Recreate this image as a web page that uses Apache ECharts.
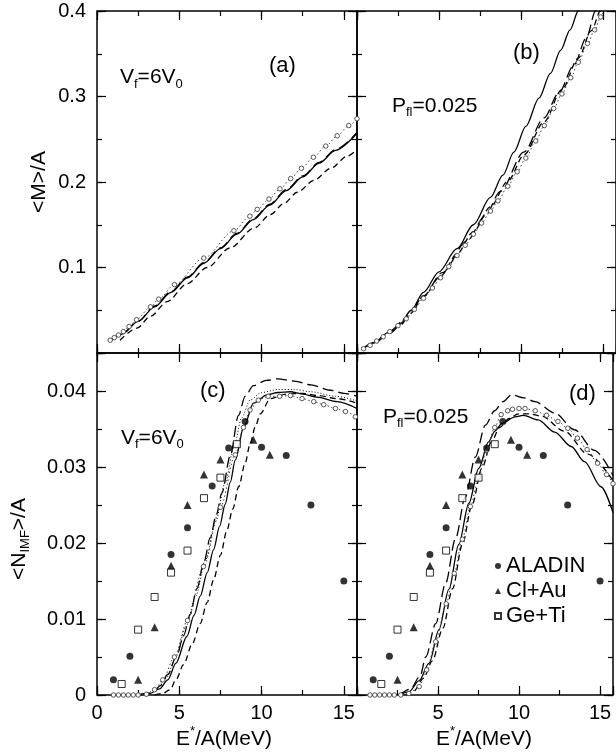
<!DOCTYPE html>
<html><head><meta charset="utf-8">
<script src="https://cdn.jsdelivr.net/npm/echarts@6/dist/echarts.min.js"></script>
<style>html,body{margin:0;padding:0;background:#fff}#c{width:616px;height:755px}</style>
</head><body><div id="c"></div><script>
const FONT = "'Liberation Sans', Arial, Helvetica, sans-serif";
const X_MAX = 15.8;

// ---- tick labels ----
const xTickLabelsLeft = ['0', '5', '10', '15'];
const xTickLabelsRight = ['5', '10', '15'];
const yTickLabelsM = ['0.1', '0.2', '0.3', '0.4'];
const yTickLabelsN = ['0', '0.01', '0.02', '0.03', '0.04'];

// ---- panel (a): <M>/A, Vf=6V0 ----
const a_dotted = [[0.8,0.015],[1.05,0.018],[1.3,0.021],[1.6,0.025],[1.95,0.031],[2.4,0.039],[3.25,0.054],[3.75,0.063],[4.71,0.080],[6.49,0.111],[8.32,0.143],[9.29,0.160],[9.74,0.168],[10.45,0.180],[11.12,0.192],[11.77,0.204],[12.42,0.216],[13.15,0.229],[13.9,0.242],[14.6,0.254],[15.3,0.266],[15.8,0.274]];
const a_solid = [[0.8,0.014],[1.5,0.022],[2.5,0.037],[3.5,0.054],[4.5,0.071],[5.5,0.088],[6.5,0.105],[7.5,0.122],[8.5,0.139],[9.5,0.156],[10.5,0.173],[11.5,0.190],[12.5,0.206],[13.5,0.222],[14.5,0.237],[15.8,0.257]];
const a_long = [[0.9,0.015],[1.5,0.022],[2.5,0.037],[3.5,0.055],[4.5,0.072],[5.5,0.089],[6.5,0.106],[7.5,0.123],[8.5,0.140],[9.5,0.157],[10.5,0.174],[11.5,0.191],[12.5,0.207],[13.5,0.223],[14.5,0.238],[15.8,0.258]];
const a_short = [[1.4,0.015],[2.43,0.029],[3.25,0.043],[4.26,0.060],[5.48,0.081],[6.69,0.100],[8.1,0.123],[9.54,0.146],[10.55,0.162],[11.36,0.175],[12.17,0.188],[13.19,0.202],[14.2,0.216],[15.2,0.230],[15.8,0.238]];

// ---- panel (b): <M>/A, Pfl=0.025 ----
const b_solid = [[0.3,0.004],[1.0,0.012],[2.0,0.025],[2.63,0.034],[3.3,0.050],[4.06,0.071],[5.0,0.095],[6.1,0.122],[7.1,0.150],[8.14,0.182],[8.9,0.208],[9.57,0.235],[10.3,0.265],[11.1,0.298],[11.8,0.327],[12.42,0.354],[13.0,0.378],[13.5,0.400],[13.7,0.410]];
const b_long = [[0.3,0.004],[1.0,0.011],[2.0,0.023],[2.63,0.032],[3.3,0.047],[4.06,0.067],[5.2,0.094],[6.71,0.131],[7.8,0.160],[8.75,0.189],[10.18,0.235],[11.41,0.275],[12.3,0.304],[13.24,0.337],[14.0,0.369],[14.55,0.400],[14.7,0.408]];
const b_short = [[0.4,0.005],[1.0,0.012],[2.0,0.025],[3.0,0.041],[4.06,0.066],[5.1,0.090],[6.1,0.116],[7.1,0.142],[8.14,0.171],[9.2,0.201],[10.2,0.232],[11.4,0.270],[12.5,0.308],[13.5,0.345],[14.3,0.377],[14.85,0.400],[15.0,0.406]];
const b_dotted = [[0.4,0.005],[0.8,0.009],[1.2,0.014],[1.6,0.019],[2.0,0.025],[2.5,0.032],[3.0,0.040],[3.5,0.051],[4.06,0.064],[4.6,0.076],[5.1,0.088],[5.6,0.101],[6.1,0.114],[6.6,0.126],[7.1,0.139],[7.6,0.152],[8.14,0.166],[8.6,0.178],[9.2,0.195],[9.77,0.212],[10.3,0.228],[10.9,0.248],[11.43,0.266],[12.0,0.286],[12.5,0.303],[13.04,0.322],[13.5,0.340],[14.06,0.362],[14.5,0.378],[14.87,0.393],[15.1,0.403]];

// ---- panel (c): <N_IMF>/A, Vf=6V0 ----
const c_long = [[2.5,0],[3.0,0.0002],[3.5,0.0006],[3.83,0.0012],[4.3,0.0027],[4.85,0.0052],[5.26,0.0078],[5.66,0.0106],[6.07,0.0140],[6.5,0.0175],[6.88,0.0207],[7.25,0.0237],[7.59,0.0266],[8.1,0.0315],[8.6,0.0368],[9.0,0.0393],[9.5,0.0407],[10.3,0.0414],[11.0,0.0416],[12.0,0.0413],[13.0,0.0408],[14.2,0.0401],[15.0,0.0397],[15.8,0.0393]];
const c_fine = [[2.5,0],[3.0,0.0002],[3.6,0.0008],[4.2,0.0022],[4.8,0.0050],[5.4,0.0090],[6.0,0.0130],[6.6,0.0178],[7.2,0.0228],[7.8,0.0280],[8.3,0.0325],[8.8,0.0365],[9.3,0.0388],[10.0,0.0398],[11.0,0.0402],[12.0,0.0402],[13.0,0.0399],[14.5,0.0393],[15.8,0.0387]];
const c_solid = [[2.6,0],[3.2,0.0002],[3.8,0.0008],[4.3,0.0020],[4.8,0.0042],[5.46,0.0077],[5.9,0.0105],[6.27,0.0130],[6.7,0.0161],[7.08,0.0191],[7.45,0.0222],[7.79,0.0251],[8.1,0.0280],[8.4,0.0309],[8.91,0.0352],[9.51,0.0384],[10.33,0.0395],[11.0,0.0398],[11.75,0.0399],[12.5,0.0396],[13.37,0.0392],[14.59,0.0386],[15.8,0.0377]];
const c_short = [[3.5,0],[4.0,0.0002],[4.44,0.0007],[4.8,0.0020],[5.26,0.0040],[5.8,0.0068],[6.27,0.0094],[6.7,0.0122],[7.08,0.0151],[7.5,0.0184],[7.9,0.0217],[8.25,0.0245],[8.61,0.0274],[9.0,0.0305],[9.31,0.0331],[9.62,0.0353],[9.92,0.0370],[10.53,0.0390],[11.5,0.0396],[12.5,0.0397],[13.4,0.0394],[14.6,0.0390],[15.8,0.0384]];
const c_dotted = [[1.0,0],[1.3,0],[1.6,0],[1.9,0],[2.2,0],[2.5,0],[3.0,0.0001],[3.5,0.0007],[4.0,0.0020],[4.7,0.0050],[5.5,0.0098],[6.47,0.0169],[7.5,0.0247],[8.4,0.0316],[8.9,0.0352],[9.3,0.0375],[9.8,0.0388],[10.4,0.0393],[11.1,0.0393],[11.75,0.0394],[12.46,0.0390],[13.17,0.0386],[13.78,0.0382],[14.49,0.0377],[15.1,0.0373],[15.7,0.0366]];

// ---- panel (d): <N_IMF>/A, Pfl=0.025 ----
const d_long = [[2.6,0],[3.3,0.0008],[3.9,0.0025],[4.24,0.0050],[4.86,0.0094],[5.47,0.0147],[6.08,0.0206],[6.69,0.0261],[7.3,0.0313],[7.92,0.0355],[8.5,0.0374],[9.0,0.0386],[9.55,0.0395],[10.3,0.0391],[10.98,0.0386],[12.2,0.0371],[13.42,0.0349],[14.65,0.0322],[15.8,0.0289]];
const d_solid = [[2.6,0],[3.2,0.0004],[3.84,0.0019],[4.45,0.0042],[5.06,0.0086],[5.67,0.0139],[6.28,0.0198],[6.9,0.0252],[7.51,0.0298],[8.12,0.0333],[8.5,0.0347],[8.94,0.0357],[9.75,0.0366],[10.26,0.0368],[11.18,0.0362],[12.2,0.0346],[13.22,0.0327],[14.04,0.0307],[15.06,0.0274],[15.8,0.0240]];
const d_short = [[3.0,0],[3.5,0.0005],[4.1,0.0022],[4.65,0.0045],[5.3,0.0088],[5.9,0.0140],[6.5,0.0198],[7.1,0.0250],[7.7,0.0298],[8.3,0.0333],[8.8,0.0352],[9.4,0.0364],[9.96,0.0370],[10.6,0.0370],[11.38,0.0367],[12.81,0.0347],[14.24,0.0317],[15.8,0.0282]];
const d_dotted = [[0.8,0],[1.1,0],[1.4,0],[1.7,0],[2.0,0],[2.3,0],[2.7,0],[3.2,0.0002],[3.84,0.0011],[4.3,0.0033],[4.86,0.0070],[5.5,0.0120],[6.0,0.0160],[6.5,0.0205],[7.0,0.0248],[7.51,0.0287],[8.0,0.0322],[8.5,0.0352],[8.9,0.0369],[9.3,0.0374],[9.6,0.0376],[10.0,0.0377],[10.37,0.0377],[11.0,0.0374],[11.7,0.0368],[12.4,0.0360],[13.01,0.0351],[13.6,0.0338],[14.2,0.0323],[14.85,0.0305],[15.4,0.0290],[15.8,0.0278]];

// ---- experimental data (panels c and d) ----
const aladinE = [1, 2, 4.5, 5.5, 7, 8, 9, 10, 11.5, 13, 15];
const aladinN = [0.0020, 0.0051, 0.0185, 0.0220, 0.0275, 0.0325, 0.0360, 0.0326, 0.0315, 0.0250, 0.0150];
const clauE = [2.5, 3.5, 4.5, 5.5, 6.5, 7.5, 9.5, 10.5];
const clauN = [0.0020, 0.0089, 0.0170, 0.0250, 0.0290, 0.0310, 0.0336, 0.0316];
const getiE = [1.5, 2.5, 3.5, 4.5, 5.5, 6.5, 7.5, 8.5];
const getiN = [0.00145, 0.0086, 0.0129, 0.0161, 0.0190, 0.0259, 0.0286, 0.0330];
const legendNames = ['ALADIN', 'Cl+Au', 'Ge+Ti'];

// ---- layout ----
const grids = [
  {left: 97, top: 11, width: 260, height: 342},
  {left: 357, top: 11, width: 259, height: 342},
  {left: 97, top: 353, width: 260, height: 342},
  {left: 357, top: 353, width: 259, height: 342}
].map(g => Object.assign(g, {show: true, borderColor: '#000', borderWidth: 1.5, backgroundColor: 'transparent'}));

function labelFmt(list) {
  return function (v) {
    for (const t of list) { if (Math.abs(parseFloat(t) - v) < 1e-9) return t; }
    return '';
  };
}
function mkAxis(g, pos, min, max, interval, major, list) {
  return {
    gridIndex: g, type: 'value', min: min, max: max, interval: interval, position: pos,
    axisLine: {show: false, onZero: false}, splitLine: {show: false}, minorTick: {show: false},
    axisTick: {show: true, inside: true, length: major ? 9 : 5, lineStyle: {color: '#000', width: 1.2}},
    axisLabel: list ? {show: true, margin: pos === 'left' ? 11 : 8, color: '#000', fontSize: 20, fontFamily: FONT,
      formatter: labelFmt(list), showMinLabel: true, showMaxLabel: true} : {show: false}
  };
}
const xAxes = [], yAxes = [], mainX = [], mainY = [];
for (let g = 0; g < 4; g++) {
  const isTop = g < 2;
  const xl = g === 2 ? xTickLabelsLeft : g === 3 ? xTickLabelsRight : null;
  mainX[g] = xAxes.length;
  xAxes.push(mkAxis(g, 'bottom', 0, X_MAX, 5, true, xl));
  xAxes.push(mkAxis(g, 'bottom', 0, X_MAX, 2.5, false, null));
  xAxes.push(mkAxis(g, 'top', 0, X_MAX, 5, true, null));
  xAxes.push(mkAxis(g, 'top', 0, X_MAX, 2.5, false, null));
  const yl = g === 0 ? yTickLabelsM : g === 2 ? yTickLabelsN : null;
  const ymax = isTop ? 0.4 : 0.045, yi = isTop ? 0.1 : 0.01;
  mainY[g] = yAxes.length;
  yAxes.push(mkAxis(g, 'left', 0, ymax, yi, true, yl));
  yAxes.push(mkAxis(g, 'left', 0, ymax, yi / 2, false, null));
  yAxes.push(mkAxis(g, 'right', 0, ymax, yi, true, null));
  yAxes.push(mkAxis(g, 'right', 0, ymax, yi / 2, false, null));
}

const STY = {
  solid: {type: 'solid', width: 1.3},
  long: {type: [11, 5], width: 1.3},
  short: {type: [6, 4], width: 1.3},
  fine: {type: [1, 2], width: 1}
};
function curve(g, data, kind) {
  const s = {type: 'line', xAxisIndex: mainX[g], yAxisIndex: mainY[g], data: data, smooth: 0.3,
    smoothMonotone: 'x', silent: true, clip: true, z: 2};
  if (kind === 'circ') {
    Object.assign(s, {symbol: 'circle', symbolSize: 4.5, showSymbol: true, showAllSymbol: true,
      lineStyle: {type: [1.5, 2.5], width: 1, color: '#444'},
      itemStyle: {color: '#fff', borderColor: '#444', borderWidth: 0.9}});
  } else {
    Object.assign(s, {symbol: 'none', showSymbol: false, lineStyle: Object.assign({color: '#000'}, STY[kind])});
  }
  return s;
}
const zip = (xs, ys) => xs.map((x, i) => [x, ys[i]]);
function exp(g) {
  return [
    {type: 'scatter', name: legendNames[0], xAxisIndex: mainX[g], yAxisIndex: mainY[g], data: zip(aladinE, aladinN),
      symbol: 'circle', symbolSize: 7, itemStyle: {color: '#000'}, z: 4, silent: true},
    {type: 'scatter', name: legendNames[1], xAxisIndex: mainX[g], yAxisIndex: mainY[g], data: zip(clauE, clauN),
      symbol: 'triangle', symbolSize: 8, itemStyle: {color: '#000'}, z: 4, silent: true},
    {type: 'scatter', name: legendNames[2], xAxisIndex: mainX[g], yAxisIndex: mainY[g], data: zip(getiE, getiN),
      symbol: 'rect', symbolSize: 7, itemStyle: {color: '#fff', borderColor: '#000', borderWidth: 1}, z: 4, silent: true}
  ];
}

const series = [
  curve(0, a_solid, 'solid'), curve(0, a_long, 'long'), curve(0, a_short, 'short'), curve(0, a_dotted, 'circ'),
  curve(1, b_solid, 'solid'), curve(1, b_long, 'long'), curve(1, b_short, 'short'), curve(1, b_dotted, 'circ'),
  curve(2, c_long, 'long'), curve(2, c_fine, 'fine'), curve(2, c_solid, 'solid'), curve(2, c_short, 'short'), curve(2, c_dotted, 'circ'),
  curve(3, d_long, 'long'), curve(3, d_solid, 'solid'), curve(3, d_short, 'short'), curve(3, d_dotted, 'circ')
].concat(exp(2), exp(3));

// ---- text helpers (sub/superscripts) ----
const mctx = document.createElement('canvas').getContext('2d');
function tw(s, size) { mctx.font = size + 'px ' + FONT; return mctx.measureText(s).width; }
function composite(parts, size, x, y, rot, center) {
  const children = []; let cx = 0;
  parts.forEach(p => {
    const t = p[0], k = p[1];
    const fs = k === 'n' ? size : Math.round(size * 0.62);
    const dy = k === 'sub' ? size * 0.32 : k === 'sup' ? -size * 0.35 : 0;
    children.push({type: 'text', x: cx, y: dy, silent: true,
      style: {text: t, fontSize: fs, fontFamily: FONT, fill: '#000', align: 'left', verticalAlign: 'middle',
        textAlign: 'left', textVerticalAlign: 'middle'}});
    cx += tw(t, fs);
  });
  if (center) children.forEach(c => { c.x -= cx / 2; });
  return {type: 'group', x: x, y: y, rotation: rot || 0, silent: true, children: children};
}
const graphics = [
  composite([['(a)', 'n']], 22, 269, 66),
  composite([['V', 'n'], ['f', 'sub'], ['=6V', 'n'], ['0', 'sub']], 21, 120, 77.5),
  composite([['(b)', 'n']], 22, 513, 53),
  composite([['P', 'n'], ['fl', 'sub'], ['=0.025', 'n']], 21, 392, 106),
  composite([['(c)', 'n']], 22, 200, 391),
  composite([['V', 'n'], ['f', 'sub'], ['=6V', 'n'], ['0', 'sub']], 21, 121, 438),
  composite([['(d)', 'n']], 22, 569, 394),
  composite([['P', 'n'], ['fl', 'sub'], ['=0.025', 'n']], 21, 383, 417),
  composite([['<M>/A', 'n']], 21, 39, 182, Math.PI / 2, true),
  composite([['<N', 'n'], ['IMF', 'sub'], ['>/A', 'n']], 21, 19, 539, Math.PI / 2, true),
  composite([['E', 'n'], ['*', 'sup'], ['/A(MeV)', 'n']], 21, 224, 739, 0, true),
  composite([['E', 'n'], ['*', 'sup'], ['/A(MeV)', 'n']], 21, 484, 739, 0, true)
];

const legendText = {fontSize: 22, fontFamily: FONT, color: '#000'};
const chart = echarts.init(document.getElementById('c'), null, {renderer: 'canvas'});
chart.setOption({
  animation: false,
  backgroundColor: '#fff',
  textStyle: {fontFamily: FONT},
  grid: grids,
  xAxis: xAxes,
  yAxis: yAxes,
  legend: {
    data: legendNames,
    orient: 'vertical', left: 494, top: 555,
    itemWidth: 6, itemHeight: 6, itemGap: 3, padding: 0, selectedMode: false,
    textStyle: legendText
  },
  series: series,
  graphic: graphics
});
</script></body></html>
